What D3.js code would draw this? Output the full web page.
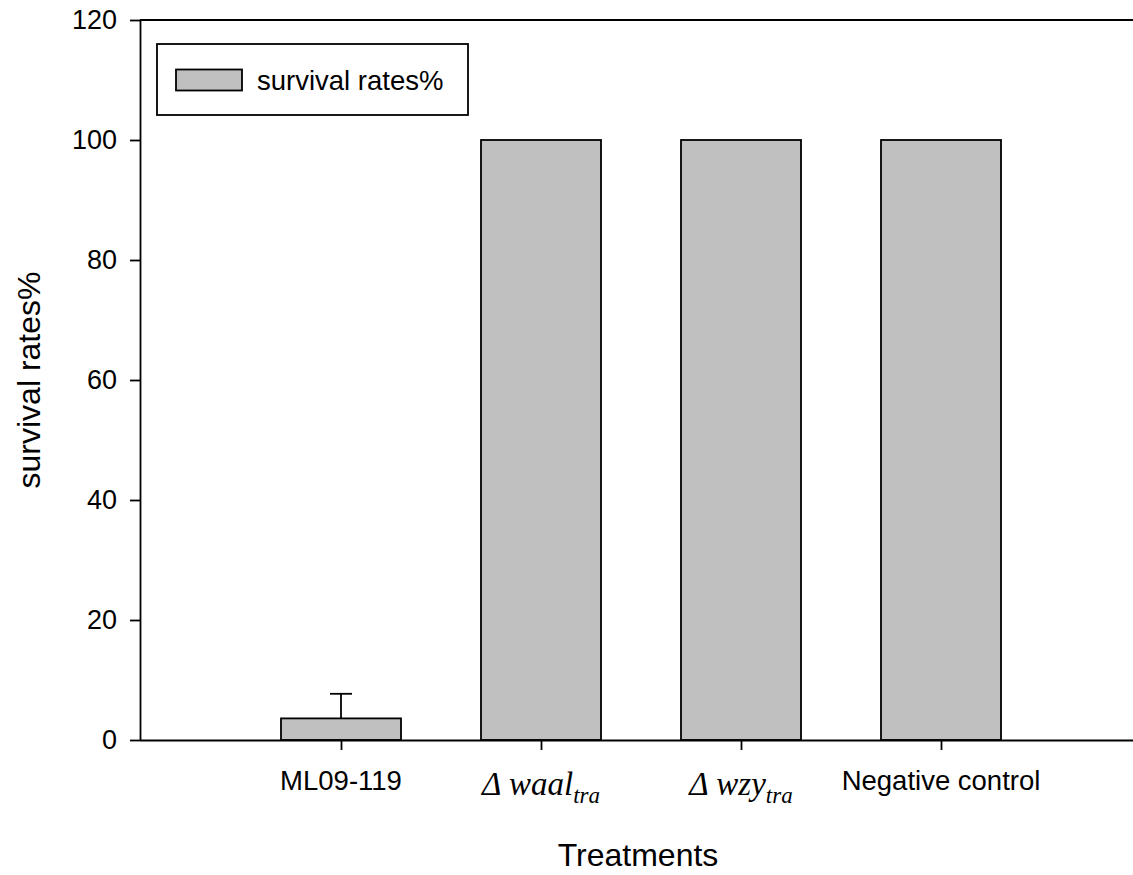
<!DOCTYPE html>
<html>
<head>
<meta charset="utf-8">
<script src="https://cdn.jsdelivr.net/npm/d3@7"></script>
<style>
  html, body { margin: 0; padding: 0; background: #fff; }
  svg { display: block; }
</style>
</head>
<body>
<svg id="chart" width="1133" height="875"></svg>
<script>
// Treatment groups and mean survival (%) with upward standard error
const categories = ["ML09-119", "waal", "wzy", "Negative control"];
const labelMain = ["ML09-119", "\u0394 waal", "\u0394 wzy", "Negative control"];
const labelSub = ["", "tra", "tra", ""];
const italicLabel = [false, true, true, false];
const survival = [3.6, 100, 100, 100];
const errorUp = [4.1, 0, 0, 0];
const yTicks = [0, 20, 40, 60, 80, 100, 120];

(function () {
  const W = 1133;
  const plotLeft = 140, plotTop = 20, plotBottom = 740;
  const svg = d3.select("#chart");
  const sans = "'Liberation Sans', Arial, sans-serif";
  const serif = "'Liberation Serif', 'Times New Roman', serif";

  const x = d3.scaleLinear().domain([0, 5]).range([141, 1141]);
  const y = d3.scaleLinear().domain([0, 120]).range([plotBottom, plotTop]);
  const barW = (x(1) - x(0)) * 0.6;

  // bars
  svg.append("g").selectAll("rect").data(survival).join("rect")
    .attr("x", (d, i) => x(i + 1) - barW / 2)
    .attr("y", d => y(d))
    .attr("width", barW)
    .attr("height", d => y(0) - y(d))
    .attr("fill", "#c0c0c0")
    .attr("stroke", "#000")
    .attr("stroke-width", 1.8);

  // error bars (upper half only)
  const eb = svg.append("g").attr("stroke", "#000").attr("stroke-width", 1.8);
  survival.forEach((v, i) => {
    if (!errorUp[i]) return;
    const cx = x(i + 1);
    eb.append("line").attr("x1", cx).attr("x2", cx).attr("y1", y(v)).attr("y2", y(v + errorUp[i]));
    eb.append("line").attr("x1", cx - 11).attr("x2", cx + 11).attr("y1", y(v + errorUp[i])).attr("y2", y(v + errorUp[i]));
  });

  // y axis
  const yAxis = svg.append("g").attr("transform", `translate(${plotLeft},0)`)
    .call(d3.axisLeft(y).tickValues(yTicks).tickSize(10).tickPadding(13).tickSizeOuter(0));
  yAxis.select(".domain").attr("stroke-width", 1.8);
  yAxis.selectAll(".tick line").attr("stroke-width", 1.8);
  yAxis.selectAll(".tick text").attr("font-family", sans).attr("font-size", 27).attr("fill", "#000");

  // x axis
  const xAxis = svg.append("g").attr("transform", `translate(0,${plotBottom})`)
    .call(d3.axisBottom(x).tickValues([1, 2, 3, 4]).tickFormat("").tickSize(10).tickSizeOuter(0));
  xAxis.select(".domain").attr("d", `M${plotLeft},0.5H${W}`).attr("stroke-width", 1.8);
  xAxis.selectAll(".tick line").attr("stroke-width", 1.8);

  // top frame line
  svg.append("line").attr("x1", plotLeft).attr("x2", W).attr("y1", plotTop).attr("y2", plotTop)
    .attr("stroke", "#000").attr("stroke-width", 1.8);

  // category labels
  categories.forEach((c, i) => {
    const t = svg.append("text")
      .attr("x", x(i + 1))
      .attr("text-anchor", "middle")
      .attr("fill", "#000");
    if (italicLabel[i]) {
      t.attr("y", 795).attr("font-family", serif).attr("font-style", "italic").attr("font-size", 33);
      t.append("tspan").text(labelMain[i]);
      t.append("tspan").attr("font-size", 23).attr("dy", 8).text(labelSub[i]);
    } else {
      t.attr("y", 790).attr("font-family", sans).attr("font-size", 27.5).text(labelMain[i]);
    }
  });

  // axis titles
  svg.append("text")
    .attr("transform", "translate(40,380) rotate(-90)")
    .attr("text-anchor", "middle")
    .attr("font-family", sans).attr("font-size", 32).attr("fill", "#000")
    .text("survival rates%");
  svg.append("text")
    .attr("x", 638).attr("y", 866)
    .attr("text-anchor", "middle")
    .attr("font-family", sans).attr("font-size", 32).attr("fill", "#000")
    .text("Treatments");

  // legend
  const lg = svg.append("g");
  lg.append("rect").attr("x", 157).attr("y", 44).attr("width", 311).attr("height", 71)
    .attr("fill", "#fff").attr("stroke", "#000").attr("stroke-width", 1.8);
  lg.append("rect").attr("x", 176).attr("y", 69.5).attr("width", 66).attr("height", 21)
    .attr("fill", "#c0c0c0").attr("stroke", "#000").attr("stroke-width", 1.8);
  lg.append("text").attr("x", 257).attr("y", 90)
    .attr("font-family", sans).attr("font-size", 27.5).attr("fill", "#000")
    .text("survival rates%");
})();
</script>
</body>
</html>
